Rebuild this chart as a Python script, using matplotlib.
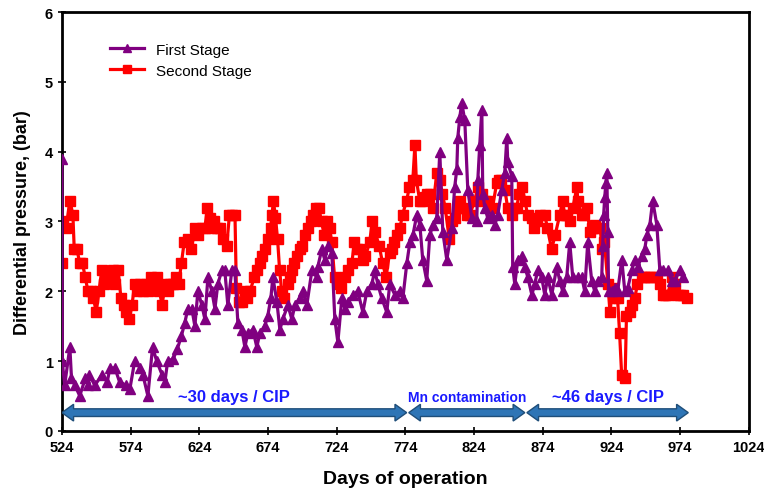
import matplotlib
matplotlib.use('Agg')
import matplotlib.pyplot as plt
from matplotlib.patches import Polygon

plt.rcParams['font.family'] = ['Liberation Sans', 'DejaVu Sans']

# First Stage (purple, triangles)
first_days = [524, 524.3, 526, 529.8, 531, 533.5, 537, 541, 543, 544, 548, 553, 557, 559, 562.6,
              566, 571, 573.5, 577, 581, 583, 586.6, 590, 593, 597, 599, 601, 605, 608, 611,
              613.5, 615.7, 618.6, 620.8, 623, 625.9, 628.1, 630.3, 633.2, 635.4, 637.5, 640.4,
              642.6, 644.8, 647.7, 649.9, 652.1, 655, 657.2, 659.4, 663, 665.9, 668.1, 671.7,
              673.9, 676.1, 677.6, 680.5, 682.7, 684.8, 688.5, 691.4, 693.6, 697.2, 699.4, 702.3,
              706, 709.6, 710.3, 713.2, 715.4, 717.6, 720.5, 722.7, 724.9, 727.8, 730, 732.2,
              735.8, 739.4, 743.1, 746, 749.6, 751.8, 754, 756.9, 760.5, 762.7, 766.4, 770,
              772.2, 775.1, 777.3, 779.5, 782.4, 784.6, 786.7, 789.6, 791.8, 794, 796.9, 799.1,
              801.3, 804.2, 807.8, 810, 811.5, 812.2, 813.7, 815.1, 817.3, 819.5, 822.4, 826,
              826.8, 828.2, 829.7, 830.4, 831.9, 834, 837, 839.1, 841.3, 844.2, 846.4, 847.9,
              848.6, 851.5, 852.2, 853.7, 855.9, 858.8, 861, 863.2, 866.1, 868.2, 870.4, 873.3,
              875.5, 877.7, 880.6, 884.3, 886.4, 888.6, 891.5, 893.7, 895.9, 899.5, 902.5, 904.6,
              906.8, 909.7, 911.9, 914.1, 917, 917.7, 918.4, 919.2, 920, 920.7, 921.4, 922,
              924.3, 926.5, 928.6, 931.6, 933.8, 936, 938.9, 941, 943.2, 946.1, 948.3, 949.8,
              952, 954.1, 957.1, 959.3, 961.4, 965.1, 968, 970.1, 973.8, 976]
first_vals = [3.9, 1.0, 0.65, 1.2, 0.75, 0.65, 0.5, 0.75, 0.65, 0.8, 0.65, 0.8, 0.7, 0.9, 0.9,
              0.7, 0.65, 0.6, 1.0, 0.9, 0.8, 0.5, 1.2, 1.0, 0.8, 0.7, 1.0, 1.03, 1.17, 1.36,
              1.55, 1.75, 1.75, 1.5, 2.0, 1.8, 1.6, 2.2, 2.0, 1.75, 2.1, 2.3,
              2.3, 1.8, 2.3, 2.3, 1.55, 1.45, 1.2, 1.4, 1.45, 1.2, 1.4, 1.5,
              1.65, 1.9, 2.2, 1.85, 1.45, 1.6, 1.8, 1.6, 1.8, 1.9, 2.0, 1.8,
              2.3, 2.2, 2.35, 2.6, 2.45, 2.65, 2.55, 1.6, 1.27, 1.9, 1.75, 1.85,
              1.95, 2.0, 1.7, 2.0, 2.1, 2.3, 2.1, 1.9, 1.7, 2.1, 1.95, 2.0,
              1.9, 2.4, 2.7, 2.8, 3.1, 2.95, 2.45, 2.15, 2.8, 2.95, 3.05, 4.0,
              2.85, 2.45, 2.9, 3.5, 3.75, 4.2, 4.5, 4.7, 4.45, 3.45, 3.05, 3.0,
              3.6, 4.1, 4.6, 3.4, 3.2, 3.05, 3.1, 2.95, 3.1, 3.45, 3.7, 4.2,
              3.85, 3.65, 2.35, 2.1, 2.45, 2.5, 2.35, 2.2, 1.95, 2.1, 2.3, 2.2,
              1.95, 2.2, 1.95, 2.35, 2.15, 2.0, 2.2, 2.7, 2.2, 2.2, 2.2, 2.0,
              2.7, 2.15, 2.0, 2.15, 2.2, 2.65, 3.1, 3.35, 3.55, 3.7, 2.85, 2.0,
              2.0, 2.05, 2.0, 2.45, 2.0, 2.05, 2.3, 2.45, 2.35, 2.5, 2.6, 2.8,
              2.95, 3.3, 2.95, 2.3, 2.3, 2.3, 2.15, 2.15, 2.3, 2.2]

# Second Stage (red, squares)
second_days = [524, 524.5, 527, 529.8, 532, 533, 535, 537, 539, 541, 543, 545, 547, 549, 551,
               553, 555, 557, 559, 561, 563, 565, 567, 569, 571, 573, 575, 577, 579, 581, 583,
               585, 587, 589, 591, 593, 595, 597, 599, 601, 603, 605, 607, 609, 611, 613, 616,
               618, 621, 623, 626, 628, 630, 631.5, 633, 635, 637, 639, 641, 644, 646, 648, 650,
               651, 653, 655, 657, 659, 661, 664, 666, 668, 670, 672, 674, 676, 677, 678, 679.5,
               681, 682.5, 684, 686, 688.5, 690, 691.5, 693, 695, 697, 699, 701, 703, 705, 707,
               709, 711, 713, 715, 717, 719, 720.5, 722.5, 725, 727.5, 730, 732, 735, 737, 739,
               741, 743, 745, 748, 750, 752, 755, 757.5, 760, 762.5, 764, 766, 768, 770, 772,
               775, 777, 779.5, 781, 782, 784.5, 786, 788, 790, 792, 794, 797, 799, 801, 803,
               806, 808, 810, 812, 814, 817, 819, 821, 824.5, 827, 830, 832, 834, 837.5, 840.5,
               842, 844, 846.5, 848.5, 851.5, 853, 855, 857, 859, 861, 863, 866, 868, 870, 872,
               875.5, 877.5, 880.5, 883, 886.5, 888.5, 890, 892, 894, 896, 899, 899.5, 902.5,
               904, 906, 908.5, 910, 912, 914, 916, 917, 919, 921.5, 923, 925, 927, 928.5, 930,
               931.5, 934, 935, 937.5, 939, 941, 943, 946, 948, 950, 952, 954, 957, 959.5,
               961.5, 963, 965, 968, 970, 972.5, 974, 976, 979]
second_vals = [2.4, 3.0, 2.9, 3.3, 3.1, 2.6, 2.6, 2.4, 2.4, 2.2, 2.0, 2.0, 1.9, 1.7, 2.0,
               2.3, 2.1, 2.2, 2.2, 2.3, 2.1, 2.3, 1.9, 1.8, 1.7, 1.6, 1.8, 2.1, 2.0, 2.1, 2.0,
               2.1, 2.0, 2.2, 2.1, 2.2, 2.0, 1.8, 2.1, 2.0, 2.1, 2.1, 2.2, 2.1, 2.4, 2.7, 2.75,
               2.6, 2.9, 2.8, 2.9, 2.9, 3.2, 3.05, 2.9, 3.0, 2.9, 2.9, 2.75, 2.65, 3.1, 3.1, 3.1,
               2.05, 1.85, 1.85, 2.0, 1.9, 2.0, 2.2, 2.3, 2.4, 2.5, 2.6, 2.75, 2.9, 3.1, 3.3, 3.05,
               2.75, 2.3, 2.0, 1.9, 2.1, 2.2, 2.3, 2.4, 2.5, 2.6, 2.65, 2.8, 2.9, 3.0, 3.1,
               3.2, 3.2, 3.0, 2.8, 3.0, 2.9, 2.7, 2.2, 2.1, 2.05, 2.2, 2.3, 2.4, 2.7, 2.6,
               2.6, 2.45, 2.5, 2.7, 3.0, 2.85, 2.65, 2.4, 2.2, 2.55, 2.6, 2.7, 2.8, 2.9, 3.1,
               3.3, 3.5, 3.6, 4.1, 3.6, 3.3, 3.3, 3.35, 3.4, 3.4, 3.2, 3.7, 3.6, 3.4, 3.2,
               2.75, 3.0, 3.05, 3.2, 3.3, 3.2, 3.1, 3.1, 3.3, 3.5, 3.4, 3.3, 3.3, 3.2, 3.55,
               3.6, 3.6, 3.45, 3.2, 3.1, 3.2, 3.2, 3.4, 3.5, 3.3, 3.1, 3.05, 2.9, 3.0, 3.1,
               3.1, 2.9, 2.6, 2.8, 3.1, 3.3, 3.1, 3.1, 3.0, 3.2, 3.5, 3.3, 3.1,
               3.1, 3.2, 2.85, 2.9, 2.95, 2.9, 2.9, 2.6, 2.7, 2.1, 1.7, 2.05, 1.9, 1.9, 1.4,
               0.8, 0.75, 1.65, 1.7, 1.8, 1.9, 2.1, 2.2, 2.2, 2.2, 2.2, 2.2, 2.2, 2.1,
               1.95, 1.95, 1.95, 2.2, 2.1, 1.95, 1.95, 1.95, 1.9]

# annotation periods (start day, end day, label)
period_starts = [524, 776.5, 862.5]
period_ends = [775, 861, 980]
period_labels = ['~30 days / CIP', 'Mn contamination', '~46 days / CIP']
period_fontsize = [12, 10, 12]
ARROW_Y = 0.26


def double_arrow(ax, x0, x1, y, head_len=8.5, shaft=0.055, head=0.12):
    pts = [(x0, y), (x0 + head_len, y + head), (x0 + head_len, y + shaft),
           (x1 - head_len, y + shaft), (x1 - head_len, y + head), (x1, y),
           (x1 - head_len, y - head), (x1 - head_len, y - shaft),
           (x0 + head_len, y - shaft), (x0 + head_len, y - head)]
    ax.add_patch(Polygon(pts, closed=True, fc='#2E75B6', ec='#1F4E79', lw=1.0, zorder=4))


fig = plt.figure(figsize=(7.64, 4.89), dpi=100)
ax = fig.add_axes([0.081, 0.117, 0.899, 0.856])

ax.plot(first_days, first_vals, color='#800080', lw=2.3, marker='^', markersize=6.5,
        label='First Stage', zorder=3)
ax.plot(second_days, second_vals, color='#FF0000', lw=2.3, marker='s', markersize=6.5,
        label='Second Stage', zorder=2)

for s, e, lab, fs in zip(period_starts, period_ends, period_labels, period_fontsize):
    double_arrow(ax, s, e, ARROW_Y)
    ax.text((s + e) / 2.0, ARROW_Y + 0.12, lab, ha='center', va='bottom', color='#1A1AFF',
            fontsize=fs, fontweight='bold', zorder=5)

ax.set_xlim(524, 1024)
ax.set_ylim(0, 6)
ax.set_xticks(range(524, 1025, 50))
ax.set_yticks(range(0, 7))
ax.tick_params(direction='inout', length=6, width=1.2, labelsize=10.5)
for lab in ax.get_xticklabels() + ax.get_yticklabels():
    lab.set_fontweight('bold')
for sp in ax.spines.values():
    sp.set_linewidth(2.0)

ax.set_xlabel('Days of operation', fontsize=14, fontweight='bold', labelpad=12)
ax.set_ylabel('Differential pressure, (bar)', fontsize=13, fontweight='bold', labelpad=10)

ax.legend(loc='upper left', bbox_to_anchor=(0.05, 0.96), frameon=False, fontsize=11,
          handlelength=2.2, numpoints=1, markerscale=0.8, labelspacing=0.45)

plt.savefig('out.png', dpi=100)
